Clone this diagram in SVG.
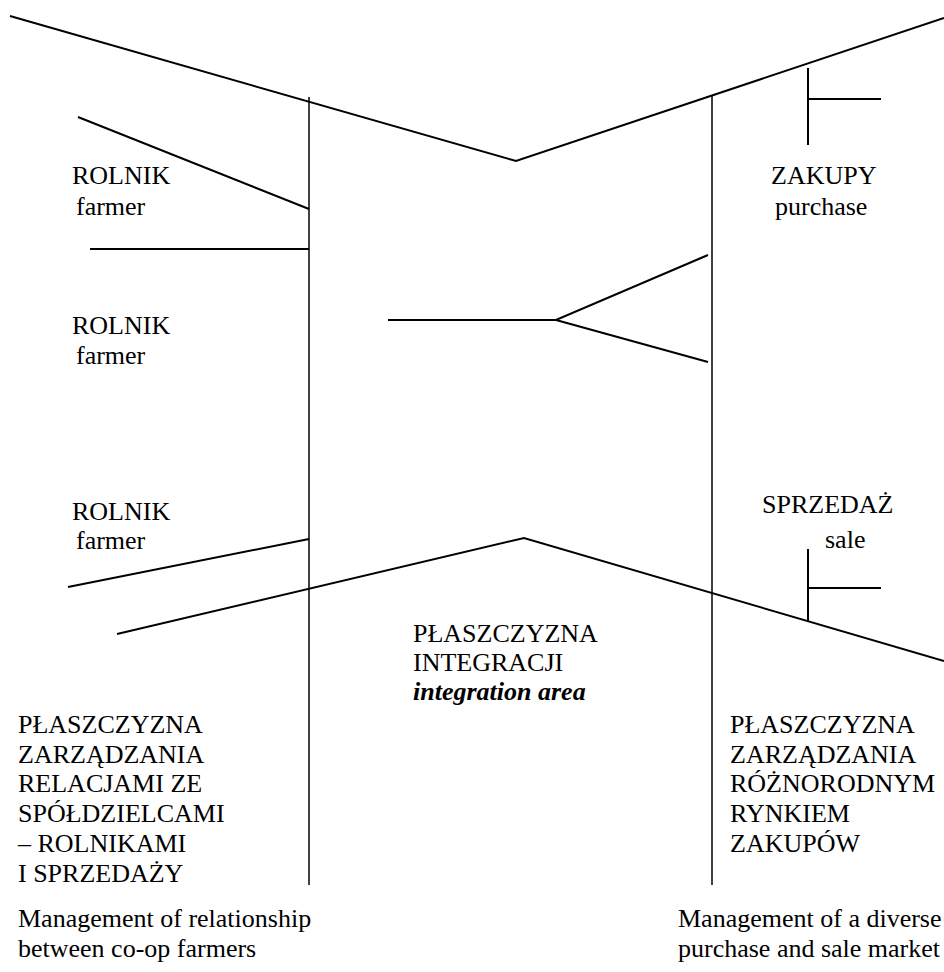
<svg xmlns="http://www.w3.org/2000/svg" width="944" height="972" viewBox="0 0 944 972">
  <style>
    text { font-family: "Liberation Serif", "Times New Roman", serif; font-size: 26px; fill: #000; }
    .em { font-weight: bold; font-style: italic; }
    .ln { stroke: #000; stroke-width: 2; fill: none; stroke-linecap: butt; stroke-linejoin: miter; }
    .axis { stroke: #000; stroke-width: 1.5; fill: none; }
  </style>
  <rect width="944" height="972" fill="#fff"/>

  <g id="connectors">
    <!-- two vertical boundaries of the integration area -->
    <line class="axis" x1="309" y1="97" x2="309" y2="885"/>
    <line class="axis" x1="712" y1="96" x2="712" y2="885"/>
    <!-- upper funnel -->
    <polyline class="ln" points="10,16 516,161 944,18"/>
    <!-- lower roof -->
    <polyline class="ln" points="117,634 524,538 944,661"/>
    <!-- farmer inputs on the left -->
    <line class="ln" x1="78" y1="117" x2="309" y2="209"/>
    <line class="ln" x1="90" y1="249" x2="309" y2="249"/>
    <line class="ln" x1="68" y1="587" x2="309" y2="539"/>
    <!-- fork in the middle -->
    <polyline class="ln" points="388,320 556,320 708,255"/>
    <line class="ln" x1="556" y1="320" x2="708" y2="362"/>
    <!-- purchase tick -->
    <line class="ln" x1="808" y1="68" x2="808" y2="145"/>
    <line class="ln" x1="808" y1="99" x2="881" y2="99"/>
    <!-- sale tick -->
    <line class="ln" x1="808" y1="549" x2="808" y2="621"/>
    <line class="ln" x1="808" y1="588" x2="881" y2="588"/>
  </g>

  <g id="farmer-1">
    <text x="72" y="184">ROLNIK</text>
    <text x="76" y="215">farmer</text>
  </g>
  <g id="farmer-2">
    <text x="72" y="334">ROLNIK</text>
    <text x="76" y="364">farmer</text>
  </g>
  <g id="farmer-3">
    <text x="72" y="520">ROLNIK</text>
    <text x="76" y="549">farmer</text>
  </g>
  <g id="purchase">
    <text x="771" y="184">ZAKUPY</text>
    <text x="775" y="215">purchase</text>
  </g>
  <g id="sale">
    <text x="762" y="513">SPRZEDAŻ</text>
    <text x="825" y="548">sale</text>
  </g>
  <g id="integration">
    <text x="413" y="642">PŁASZCZYZNA</text>
    <text x="413" y="671">INTEGRACJI</text>
    <text x="413" y="700" class="em">integration area</text>
  </g>
  <g id="farmer-relations">
    <text x="18" y="733">PŁASZCZYZNA</text>
    <text x="18" y="763">ZARZĄDZANIA</text>
    <text x="18" y="792">RELACJAMI ZE</text>
    <text x="18" y="822">SPÓŁDZIELCAMI</text>
    <text x="18" y="852">– ROLNIKAMI</text>
    <text x="18" y="882">I SPRZEDAŻY</text>
  </g>
  <g id="market">
    <text x="730" y="733">PŁASZCZYZNA</text>
    <text x="730" y="763">ZARZĄDZANIA</text>
    <text x="730" y="792">RÓŻNORODNYM</text>
    <text x="730" y="822">RYNKIEM</text>
    <text x="730" y="852">ZAKUPÓW</text>
  </g>
  <g id="caption-left">
    <text x="18" y="927">Management of relationship</text>
    <text x="18" y="957">between co-op farmers</text>
  </g>
  <g id="caption-right">
    <text x="678" y="927">Management of a diverse</text>
    <text x="678" y="957">purchase and sale market</text>
  </g>
</svg>
